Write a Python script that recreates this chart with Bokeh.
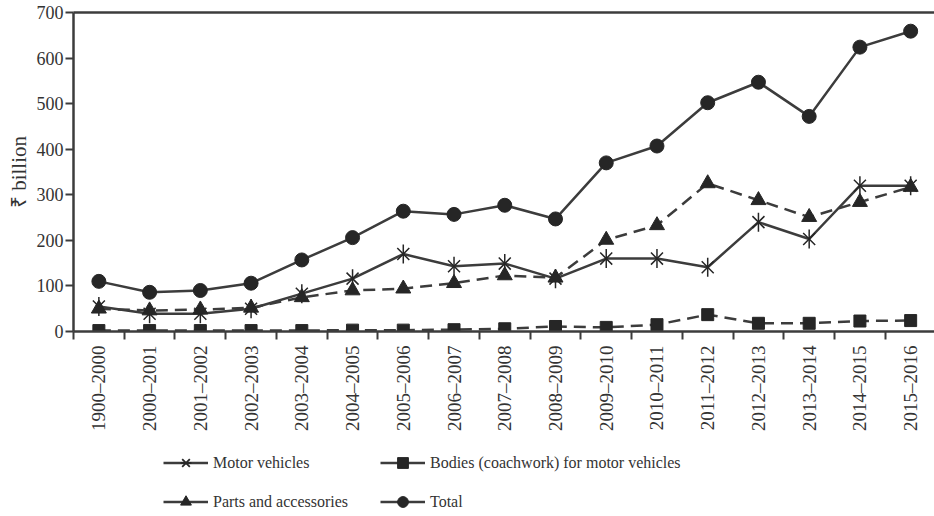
import math
from bokeh.plotting import figure
from bokeh.layouts import column
from bokeh.models import Range1d, LinearAxis, FixedTicker, Legend, LegendItem, Title
from bokeh.embed import file_html
from bokeh.resources import INLINE

years = ["1900–2000", "2000–2001", "2001–2002", "2002–2003", "2003–2004",
         "2004–2005", "2005–2006", "2006–2007", "2007–2008", "2008–2009",
         "2009–2010", "2010–2011", "2011–2012", "2012–2013", "2013–2014",
         "2014–2015", "2015–2016"]
motor_vehicles = [55, 39, 39, 50, 83, 116, 170, 143, 149, 116, 160, 160, 141, 240, 203, 320, 320]
bodies = [2, 2, 2, 2, 2, 3, 3, 4, 6, 11, 9, 15, 37, 18, 18, 23, 24]
parts = [50, 46, 48, 52, 75, 90, 94, 106, 123, 118, 201, 233, 325, 288, 251, 284, 317]
total = [110, 86, 90, 106, 157, 206, 264, 257, 277, 247, 370, 407, 502, 547, 472, 624, 659]
y_ticks = [0, 100, 200, 300, 400, 500, 600, 700]
y_label = "₹ billion"
series_names = ["Motor vehicles", "Bodies (coachwork) for motor vehicles",
                "Parts and accessories", "Total"]

x = list(range(len(years)))
boundaries = [i - 0.5 for i in range(len(years) + 1)]

FONT = "Liberation Serif"
LINE = "#3c3c3c"
MARK = "#262626"
TXT = "#333333"
LW = 2.5
DASH = "12 7"

p = figure(width=934, height=446, x_range=Range1d(-0.5, 16.47), y_range=Range1d(0, 700),
           output_backend="svg", toolbar_location=None, x_axis_type=None,
           min_border_left=73, min_border_right=0, min_border_top=12,
           min_border_bottom=115)
p.outline_line_color = None
p.ygrid.visible = False
p.background_fill_color = "white"
p.border_fill_color = "white"

# y axis
p.yaxis.ticker = FixedTicker(ticks=y_ticks)
p.yaxis.minor_tick_line_color = None
p.yaxis.major_tick_out = 8
p.yaxis.major_tick_in = 0
p.yaxis.major_tick_line_width = 2
p.yaxis.major_tick_line_color = LINE
p.yaxis.axis_line_width = LW
p.yaxis.axis_line_color = LINE
p.yaxis.major_label_text_font = FONT
p.yaxis.major_label_text_font_size = "18px"
p.yaxis.major_label_text_color = TXT
p.yaxis.major_label_standoff = 2

# y axis title as a side title (rotated, reading upwards)
ytitle = Title(text=y_label, align="center", text_font=FONT, text_font_size="21px",
               text_font_style="normal", text_color=TXT, standoff=5)
p.add_layout(ytitle, "left")

# x axis: labels at category centres, ticks at category boundaries
xa = LinearAxis(ticker=FixedTicker(ticks=x, minor_ticks=boundaries))
xa.major_label_overrides = {i: years[i] for i in x}
xa.major_label_orientation = math.pi / 2
xa.major_tick_out = 0
xa.major_tick_in = 0
xa.minor_tick_out = 8
xa.minor_tick_in = 0
xa.minor_tick_line_width = 2
xa.minor_tick_line_color = LINE
xa.axis_line_width = LW
xa.axis_line_color = LINE
xa.major_label_text_font = FONT
xa.major_label_text_font_size = "19px"
xa.major_label_text_color = TXT
xa.major_label_standoff = 6
p.add_layout(xa, "below")

# top border line
ta = LinearAxis(ticker=FixedTicker(ticks=[]))
ta.major_tick_out = 0
ta.major_tick_in = 0
ta.minor_tick_out = 0
ta.minor_tick_in = 0
ta.major_label_text_font_size = "0px"
ta.axis_line_width = LW
ta.axis_line_color = LINE
p.add_layout(ta, "above")

# Total
p.line(x, total, line_color=LINE, line_width=LW)
p.scatter(x, total, marker="circle", size=14, fill_color=MARK, line_color=MARK)

# Motor vehicles
p.line(x, motor_vehicles, line_color=LINE, line_width=LW)
p.scatter(x, motor_vehicles, marker="x", size=17, line_color=MARK, line_width=1.5)
p.scatter(x, motor_vehicles, marker="dash", angle=math.pi / 2, size=19,
          line_color=MARK, line_width=1.5)

# Parts and accessories
p.line(x, parts, line_color=LINE, line_width=LW, line_dash=DASH)
p.scatter(x, parts, marker="triangle", size=15, fill_color=MARK, line_color=MARK)

# Bodies
p.line(x, bodies, line_color=LINE, line_width=LW, line_dash=DASH)
p.scatter(x, bodies, marker="square", size=12, fill_color=MARK, line_color=MARK)

# ---- legend strip (own figure; its glyphs lie outside its visible range) ----
lf = figure(width=934, height=70, x_range=Range1d(0, 1), y_range=Range1d(1000, 1001),
            output_backend="svg", toolbar_location=None, x_axis_type=None,
            y_axis_type=None, min_border=0)
lf.outline_line_color = None
lf.background_fill_color = "white"
lf.border_fill_color = "white"

lm_l = lf.line(x, motor_vehicles, line_color=LINE, line_width=LW)
lm_x = lf.scatter(x, motor_vehicles, marker="x", size=13, line_color=MARK, line_width=1.8)
lm_d = lf.scatter(x, motor_vehicles, marker="dash", angle=math.pi / 2, size=14,
                  line_color=MARK, line_width=1.8)
lb_l = lf.line(x, bodies, line_color=LINE, line_width=LW)
lb_s = lf.scatter(x, bodies, marker="square", size=10, fill_color=MARK, line_color=MARK)
lp_l = lf.line(x, parts, line_color=LINE, line_width=LW)
lp_t = lf.scatter(x, parts, marker="triangle", size=12, fill_color=MARK, line_color=MARK)
lt_l = lf.line(x, total, line_color=LINE, line_width=LW)
lt_c = lf.scatter(x, total, marker="circle", size=10, fill_color=MARK, line_color=MARK)

legend = Legend(items=[
    LegendItem(label=series_names[0], renderers=[lm_l, lm_x, lm_d]),
    LegendItem(label=series_names[1], renderers=[lb_l, lb_s]),
    LegendItem(label=series_names[2], renderers=[lp_l, lp_t]),
    LegendItem(label=series_names[3], renderers=[lt_l, lt_c]),
], orientation="horizontal", ncols=2, location=(90, 1))
legend.border_line_color = None
legend.background_fill_alpha = 0
legend.padding = 0
legend.margin = 0
legend.spacing = 12
legend.glyph_width = 45
legend.glyph_height = 27
legend.label_height = 27
legend.label_width = 155
legend.label_standoff = 5
legend.label_text_font = FONT
legend.label_text_font_size = "16px"
legend.label_text_color = TXT
lf.add_layout(legend, "center")

layout = column(p, lf, spacing=0)
open("out.html", "w").write(file_html(layout, INLINE))
